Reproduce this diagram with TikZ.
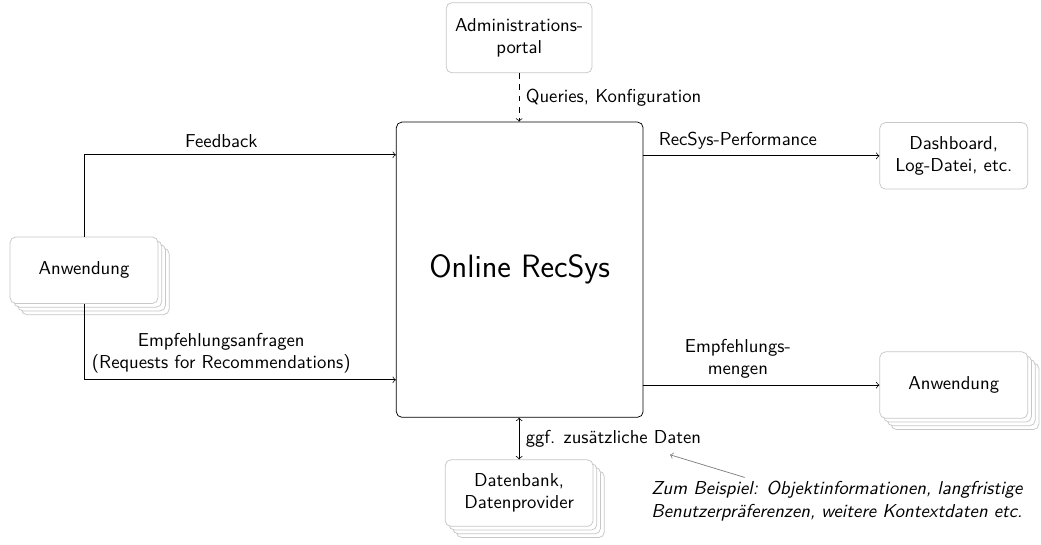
\documentclass[tikz,border=0pt]{standalone}
\usepackage{fontspec}
\usetikzlibrary{shadows,calc}
\renewcommand{\familydefault}{\sfdefault}

\begin{document}
\begin{tikzpicture}[
    box/.style={draw=black!22, rounded corners=3pt, fill=white, align=center,
      minimum width=2.78cm, minimum height=1.25cm},
    stack/.style={box,
      copy shadow={draw=black!22, fill=white, shadow xshift=6pt, shadow yshift=-6pt},
      copy shadow={draw=black!22, fill=white, shadow xshift=4pt, shadow yshift=-4pt},
      copy shadow={draw=black!22, fill=white, shadow xshift=2pt, shadow yshift=-2pt}},
    note/.style={font=\itshape, align=left}
  ]
      \useasboundingbox (0,0) rectangle (19.57,-10.23);
      %center block
      \node [draw, rounded corners=3pt, minimum width=4.64cm, minimum height=5.55cm, font=\LARGE] (recsys) at (9.77,-5.07) {Online RecSys};
      \node [box, minimum width=2.74cm, minimum height=1.32cm] (admin) at (9.76,-0.71) {Administrations-\\portal};
      \node [box] (dashboard) at (17.93,-2.93) {Dashboard,\\Log-Datei, etc.};
      \node [stack] (appin) at (1.58,-5.08) {Anwendung};
      \node [stack] (appout) at (17.93,-7.24) {Anwendung};
      \node [stack] (db) at (9.76,-9.27) {Datenbank,\\Datenprovider};
      \node [note, anchor=west] (example) at (12.12,-9.42) {Zum Beispiel: Objektinformationen, langfristige\\Benutzerpräferenzen, weitere Kontextdaten etc.};
      %inputs
      \draw [->] (appin.north) |- ([yshift=2.16cm]recsys.west) node[above, pos=.72]{Feedback};
      \draw [->] (appin.south) |- ([yshift=-2.07cm]recsys.west) node[above, pos=.72, align=center]{Empfehlungsanfragen\\(Requests for Recommendations)};
      \draw [->, dashed] (admin.south) -- (admin.south |- recsys.north) node[right, midway]{Queries, Konfiguration};
      %outputs
      \draw [->] (recsys.east |- dashboard.west) -- (dashboard.west) node[above, pos=.4]{RecSys-Performance};
      \draw [->] (recsys.east |- appout.west) -- (appout.west) node[above, pos=.4, align=center]{Empfehlungs-\\mengen};
      \draw [<->] (db.north |- recsys.south) -- (db.north) node[right, midway] (extra) {ggf. zusätzliche Daten};
      \draw [->, black!50] ([xshift=1.88cm, yshift=-0.05cm]example.north west) -- ([xshift=-0.71cm, yshift=-0.02cm]extra.south east);
\end{tikzpicture}
\end{document}
